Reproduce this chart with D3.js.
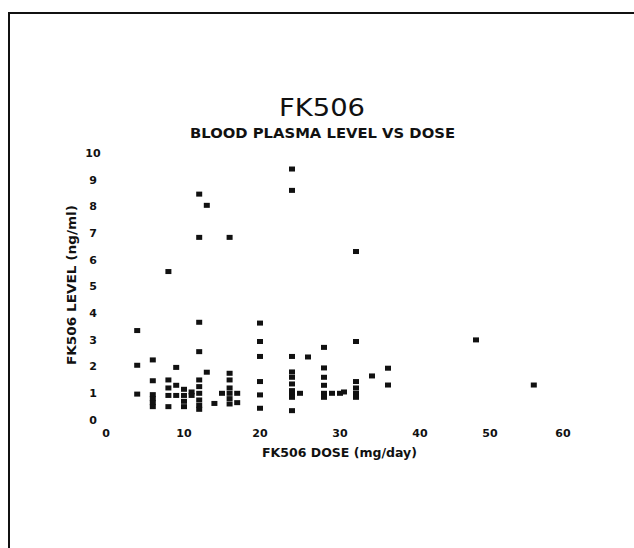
<!DOCTYPE html>
<html>
<head>
<meta charset="utf-8">
<script src="https://cdn.jsdelivr.net/npm/d3@7"></script>
<style>
  html, body { margin: 0; padding: 0; background: #fff; }
  svg { display: block; }
  text { fill: #111; font-family: "DejaVu Sans", sans-serif; }
</style>
</head>
<body>
<div id="chart"></div>
<script>
const TITLE = "FK506";
const SUBTITLE = "BLOOD PLASMA LEVEL VS DOSE";
const X_LABEL = "FK506 DOSE (mg/day)";
const Y_LABEL = "FK506 LEVEL (ng/ml)";

const X_TICKS = [0, 10, 20, 30, 40, 50, 60];
const Y_TICKS = [0, 1, 2, 3, 4, 5, 6, 7, 8, 9, 10];

// dose (mg/day) and blood level (ng/ml)
const DOSES = [
  4, 4, 4,
  6, 6, 6, 6, 6, 6,
  8, 8, 8, 8, 8,
  9, 9, 9,
  10, 10, 10, 10, 11, 11,
  12, 12, 12, 12, 12, 12, 12, 12, 12, 12,
  13, 13, 14,
  15, 16, 16, 16, 16, 16, 16, 16, 17, 17,
  20, 20, 20, 20, 20, 20,
  24, 24, 24, 24, 24, 24, 24, 24, 24, 24, 25,
  26,
  28, 28, 28, 28, 28, 28, 29, 30, 30.5,
  32, 32, 32, 32, 32, 32,
  34, 36, 36,
  48, 56,
];
const LEVELS = [
  3.35, 2.05, 0.97,
  2.25, 1.47, 0.95, 0.8, 0.65, 0.5,
  5.56, 1.5, 1.2, 0.92, 0.5,
  1.97, 1.3, 0.92,
  1.15, 0.92, 0.7, 0.5, 1.05, 0.92,
  8.46, 6.84, 3.66, 2.56, 1.5, 1.25, 1.0, 0.75, 0.55, 0.4,
  8.04, 1.79, 0.62,
  1.0, 6.84, 1.75, 1.5, 1.2, 1.0, 0.8, 0.6, 1.0, 0.65,
  3.63, 2.94, 2.38, 1.44, 0.94, 0.44,
  9.4, 8.6, 2.38, 1.8, 1.6, 1.35, 1.1, 1.0, 0.85, 0.35, 1.0,
  2.36,
  2.72, 1.95, 1.6, 1.3, 1.0, 0.85, 1.0, 1.0, 1.05,
  6.31, 2.94, 1.44, 1.2, 1.0, 0.85,
  1.65, 1.94, 1.31,
  3.0, 1.31,
];

const width = 634;
const height = 548;

const points = DOSES.map((d, i) => ({ dose: d, level: LEVELS[i] }));

const svg = d3
  .select("#chart")
  .append("svg")
  .attr("width", width)
  .attr("height", height);

// the plotter's x spacing is a little uneven, so follow its tick positions
const x = d3.scaleLinear().domain(X_TICKS).range([106, 184, 260, 340, 420, 490, 563]);
const y = d3.scaleLinear().domain([0, 10]).range([420, 153]);

// page frame (top and left edges only)
svg.append("path")
  .attr("d", `M9,${height} L9,13 L${width},13`)
  .attr("fill", "none")
  .attr("stroke", "#111")
  .attr("stroke-width", 2);

svg.append("text")
  .attr("x", 322)
  .attr("y", 116)
  .attr("text-anchor", "middle")
  .attr("font-size", 25)
  .attr("textLength", 86)
  .attr("lengthAdjust", "spacingAndGlyphs")
  .text(TITLE);

svg.append("text")
  .attr("x", 190)
  .attr("y", 138)
  .attr("font-size", 14)
  .attr("font-weight", "bold")
  .attr("textLength", 265)
  .attr("lengthAdjust", "spacingAndGlyphs")
  .text(SUBTITLE);

svg.append("g")
  .selectAll("text")
  .data(Y_TICKS)
  .join("text")
  .attr("x", 93)
  .attr("y", (d) => y(d))
  .attr("dy", "0.35em")
  .attr("text-anchor", "middle")
  .attr("font-size", 11)
  .attr("font-weight", "bold")
  .text((d) => d);

svg.append("g")
  .selectAll("text")
  .data(X_TICKS)
  .join("text")
  .attr("x", (d) => x(d))
  .attr("y", 433)
  .attr("dy", "0.35em")
  .attr("text-anchor", "middle")
  .attr("font-size", 11)
  .attr("font-weight", "bold")
  .text((d) => d);

svg.append("text")
  .attr("x", 262)
  .attr("y", 457)
  .attr("font-size", 12)
  .attr("font-weight", "bold")
  .attr("textLength", 155)
  .attr("lengthAdjust", "spacingAndGlyphs")
  .text(X_LABEL);

svg.append("text")
  .attr("transform", "translate(76,285) rotate(-90)")
  .attr("text-anchor", "middle")
  .attr("font-size", 12)
  .attr("font-weight", "bold")
  .attr("textLength", 160)
  .attr("lengthAdjust", "spacingAndGlyphs")
  .text(Y_LABEL);

svg.append("g")
  .selectAll("rect")
  .data(points)
  .join("rect")
  .attr("x", (d) => x(d.dose) - 3)
  .attr("y", (d) => y(d.level) - 2.5)
  .attr("width", 6)
  .attr("height", 5)
  .attr("fill", "#111");
</script>
</body>
</html>
